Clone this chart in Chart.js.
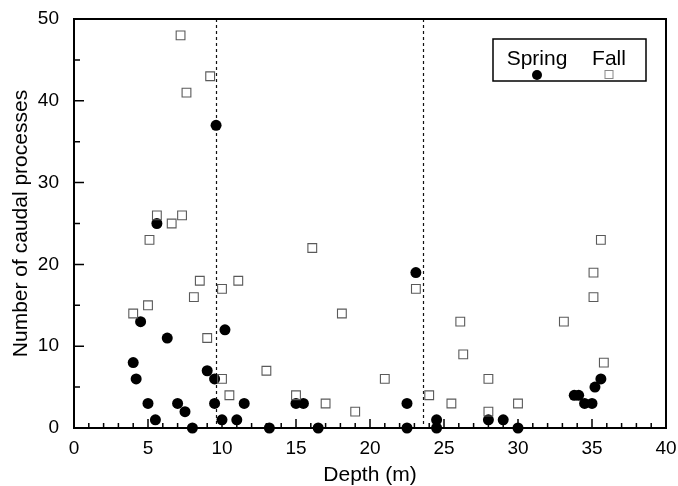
<!DOCTYPE html>
<html>
<head>
<meta charset="utf-8">
<script src="https://cdn.jsdelivr.net/npm/chart.js@4.4.1/dist/chart.umd.min.js"></script>
<style>
  html, body { margin: 0; padding: 0; background: #fff; }
  #wrap { width: 678px; height: 486px; position: relative; }
</style>
</head>
<body>
<div id="wrap"><canvas id="chart"></canvas></div>
<script>
// Spring samples (filled circles)
const springDepth = [4.0, 4.2, 4.5, 5.0, 5.5, 5.6, 6.3, 7.0, 7.5, 8.0, 9.0, 9.5, 9.5, 9.6, 10.0, 10.2, 11.0, 11.5,
    13.2, 15.0, 15.5, 16.5, 22.5, 22.5, 23.1, 24.5, 24.5, 28.0, 29.0, 30.0, 33.8, 34.1, 34.5, 35.0, 35.2, 35.6];
const springCount = [8, 6, 13, 3, 1, 25, 11, 3, 2, 0, 7, 6, 3, 37, 1, 12, 1, 3,
    0, 3, 3, 0, 3, 0, 19, 1, 0, 1, 1, 0, 4, 4, 3, 3, 5, 6];

// Fall samples (open squares)
const fallDepth = [4.0, 5.0, 5.1, 5.6, 6.6, 7.2, 7.3, 7.6, 8.1, 8.5, 9.0, 9.2, 10.0, 10.0, 10.5, 11.1, 13.0,
    15.0, 16.1, 17.0, 18.1, 19.0, 21.0, 23.1, 24.0, 25.5, 26.1, 26.3, 28.0, 28.0, 30.0, 33.1, 35.1, 35.1, 35.6, 35.8];
const fallCount = [14, 15, 23, 26, 25, 48, 26, 41, 16, 18, 11, 43, 17, 6, 4, 18, 7,
    4, 22, 3, 14, 2, 6, 17, 4, 3, 13, 9, 6, 2, 3, 13, 19, 16, 23, 8];

// dashed reference depths
const dividerDepths = [9.6, 23.6];

const xTicks = [0, 5, 10, 15, 20, 25, 30, 35, 40];
const yTicks = [0, 10, 20, 30, 40, 50];
const seriesNames = ['Spring', 'Fall'];

const FONT = '"Liberation Sans", Arial, Helvetica, sans-serif';

const toPoints = (xs, ys) => xs.map((x, i) => ({ x: x, y: ys[i] }));

const framePlugin = {
    id: 'frame',
    beforeDatasetsDraw(chart) {
        const { ctx, chartArea, scales } = chart;
        ctx.save();
        ctx.strokeStyle = '#111';
        ctx.lineWidth = 1.2;
        ctx.setLineDash([3, 3]);
        dividerDepths.forEach(d => {
            const px = Math.round(scales.x.getPixelForValue(d)) + 0.5;
            ctx.beginPath();
            ctx.moveTo(px, chartArea.top);
            ctx.lineTo(px, chartArea.bottom);
            ctx.stroke();
        });
        ctx.restore();
    },
    afterDraw(chart) {
        const { ctx, chartArea, scales } = chart;
        const { left, right, top, bottom } = chartArea;
        ctx.save();
        ctx.strokeStyle = '#000';
        ctx.lineWidth = 2;
        ctx.strokeRect(left, top, right - left, bottom - top);

        // inward ticks
        ctx.lineWidth = 1.5;
        ctx.beginPath();
        for (let v = 0; v <= 40; v++) {
            const px = scales.x.getPixelForValue(v);
            const len = v % 5 === 0 ? 9 : 5;
            ctx.moveTo(px, bottom);
            ctx.lineTo(px, bottom - len);
        }
        for (let v = 0; v <= 50; v += 5) {
            const py = scales.y.getPixelForValue(v);
            const len = v % 10 === 0 ? 10 : 6;
            ctx.moveTo(left, py);
            ctx.lineTo(left + len, py);
        }
        ctx.stroke();

        // legend box
        const bx = right - 173, by = top + 20, bw = 153, bh = 42;
        ctx.fillStyle = '#fff';
        ctx.fillRect(bx, by, bw, bh);
        ctx.lineWidth = 1.5;
        ctx.strokeRect(bx, by, bw, bh);
        ctx.fillStyle = '#000';
        ctx.font = '21px ' + FONT;
        ctx.textAlign = 'center';
        ctx.textBaseline = 'alphabetic';
        const sx = bx + 44, fx = bx + 116;
        ctx.fillText(seriesNames[0], sx, by + 26);
        ctx.fillText(seriesNames[1], fx, by + 26);
        ctx.beginPath();
        ctx.arc(sx, by + 36, 5, 0, Math.PI * 2);
        ctx.fill();
        ctx.strokeStyle = '#888';
        ctx.lineWidth = 1;
        ctx.strokeRect(fx - 4, by + 31.5, 8, 8);
        ctx.restore();
    }
};

new Chart(document.getElementById('chart'), {
    type: 'scatter',
    data: {
        datasets: [
            {
                label: seriesNames[1],
                data: toPoints(fallDepth, fallCount),
                pointStyle: 'rect',
                pointRadius: 6.2,
                backgroundColor: 'rgba(255,255,255,0)',
                borderColor: '#5a5a5a',
                borderWidth: 1.1,
                clip: false
            },
            {
                label: seriesNames[0],
                data: toPoints(springDepth, springCount),
                pointStyle: 'circle',
                pointRadius: 5.5,
                backgroundColor: '#000',
                borderColor: '#000',
                borderWidth: 0,
                clip: false
            }
        ]
    },
    options: {
        responsive: true,
        maintainAspectRatio: false,
        animation: false,
        layout: { padding: { top: 19, right: 12, left: 0, bottom: 0 } },
        plugins: {
            legend: { display: false },
            tooltip: { enabled: false }
        },
        scales: {
            x: {
                type: 'linear',
                min: 0,
                max: 40,
                afterFit: s => { s.height = 58; s.paddingLeft = 0; s.paddingRight = 0; },
                afterBuildTicks: s => { s.ticks = xTicks.map(v => ({ value: v })); },
                grid: { display: false },
                border: { display: false },
                ticks: { color: '#000', padding: 1, maxRotation: 0, font: { family: FONT, size: 19 } },
                title: {
                    display: true,
                    text: 'Depth (m)',
                    color: '#000',
                    padding: { top: 0, bottom: 0 },
                    font: { family: FONT, size: 21, lineHeight: 1 }
                }
            },
            y: {
                type: 'linear',
                min: 0,
                max: 50,
                afterFit: s => { s.width = 74; s.paddingTop = 0; s.paddingBottom = 0; },
                afterBuildTicks: s => { s.ticks = yTicks.map(v => ({ value: v })); },
                grid: { display: false },
                border: { display: false },
                ticks: { color: '#000', padding: 7, font: { family: FONT, size: 19 } },
                title: {
                    display: true,
                    text: 'Number of caudal processes',
                    color: '#000',
                    padding: { top: 11, bottom: 0 },
                    font: { family: FONT, size: 21, lineHeight: 1 }
                }
            }
        }
    },
    plugins: [framePlugin]
});
</script>
</body>
</html>
